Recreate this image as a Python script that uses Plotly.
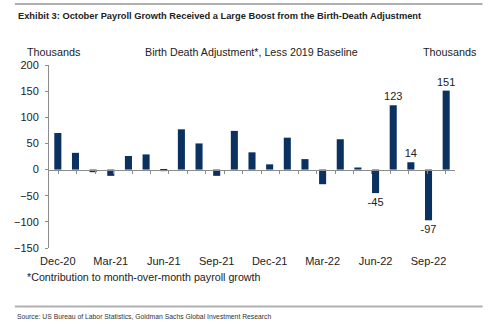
import plotly.graph_objects as go

months = ["Dec-20", "Jan-21", "Feb-21", "Mar-21", "Apr-21", "May-21", "Jun-21",
          "Jul-21", "Aug-21", "Sep-21", "Oct-21", "Nov-21", "Dec-21", "Jan-22",
          "Feb-22", "Mar-22", "Apr-22", "May-22", "Jun-22", "Jul-22", "Aug-22",
          "Sep-22", "Oct-22"]
birth_death = [70, 32, -5, -12, 26, 29, -3, 77, 50, -12, 74, 33, 10, 61,
               20, -28, 58, 4, -45, 123, 14, -97, 151]
labelled = {"Jun-22", "Jul-22", "Aug-22", "Sep-22", "Oct-22"}
tick_months = ["Dec-20", "Mar-21", "Jun-21", "Sep-21", "Dec-21", "Mar-22", "Jun-22", "Sep-22"]
y_ticks = [-150, -100, -50, 0, 50, 100, 150, 200]

NAVY = "#0b3160"
AXIS = "#8c8c8c"
FONT = "Liberation Sans, Arial, sans-serif"
NARROW = "Liberation Sans Narrow, Arial Narrow, sans-serif"

fig = go.Figure()
fig.add_trace(go.Bar(
    x=months, y=birth_death, marker_color=NAVY, marker_line_width=0,
    text=[str(v) if m in labelled else "" for m, v in zip(months, birth_death)],
    textposition="outside", cliponaxis=False, constraintext="none",
    textfont=dict(family=FONT, size=11, color="#222"),
))
# empty trace on an overlay axis that draws the zero line with boundary ticks
fig.add_trace(go.Scatter(x=months, y=[None] * len(months), xaxis="x2",
                         showlegend=False, hoverinfo="skip"))

y0_frac = (0 - y_ticks[0]) / (y_ticks[-1] - y_ticks[0])

fig.update_layout(
    width=500, height=324,
    margin=dict(l=49, r=45, t=65, b=76),
    paper_bgcolor="white", plot_bgcolor="white",
    showlegend=False, bargap=0.6,
    font=dict(family=FONT, size=11, color="#222"),
    xaxis=dict(type="category", categoryorder="array", categoryarray=months,
               tickvals=tick_months, ticktext=tick_months, showline=False,
               ticks="", showgrid=False, zeroline=False, ticklabelstandoff=5,
               tickfont=dict(size=11, color="#222")),
    xaxis2=dict(type="category", categoryorder="array", categoryarray=months,
                overlaying="x", anchor="free", position=y0_frac, side="bottom",
                showline=True, linecolor=AXIS, linewidth=1,
                ticks="outside", tickson="boundaries", ticklen=3,
                tickcolor=AXIS, showticklabels=False, showgrid=False,
                zeroline=False),
    yaxis=dict(range=[y_ticks[0], y_ticks[-1]], tickvals=y_ticks,
               showline=True, linecolor=AXIS, linewidth=1,
               ticks="outside", ticklen=3, tickcolor=AXIS,
               showgrid=False, zeroline=False, ticklabelstandoff=4,
               tickfont=dict(size=11, color="#222")),
)

fig.add_shape(type="line", xref="paper", yref="paper", x0=-0.084, x1=1.068,
              y0=1.0 + 61 / 183, y1=1.0 + 61 / 183, line=dict(color="#b0b0b0", width=2))
fig.add_shape(type="line", xref="paper", yref="paper", x0=-0.084, x1=1.068,
              y0=-(306.5 - 248) / 183, y1=-(306.5 - 248) / 183,
              line=dict(color="#b0b0b0", width=2))

ann = [
    dict(text="<b>Exhibit 3: October Payroll Growth Received a Large Boost from the Birth-Death Adjustment</b>",
         x=16, y=16, size=9.3, family=NARROW, color="#222"),
    dict(text="Thousands", x=25, y=52, size=10.8, family=FONT, color="#222"),
    dict(text="Birth Death Adjustment*, Less 2019 Baseline", x=143, y=52, size=10.7, family=FONT, color="#222"),
    dict(text="Thousands", x=421, y=52, size=10.8, family=FONT, color="#222"),
    dict(text="*Contribution to month-over-month payroll growth", x=25, y=277, size=10.7, family=FONT, color="#222"),
    dict(text="Source: US Bureau of Labor Statistics, Goldman Sachs Global Investment Research",
         x=15, y=316, size=6.8, family=NARROW, color="#333"),
]
for a in ann:
    fig.add_annotation(text=a["text"], xref="paper", yref="paper",
                       x=(a["x"] - 49) / 406, y=1 - (a["y"] - 65) / 183,
                       xanchor="left", yanchor="middle", showarrow=False,
                       font=dict(size=a["size"], family=a["family"], color=a["color"]))

fig.write_html("out.html")
